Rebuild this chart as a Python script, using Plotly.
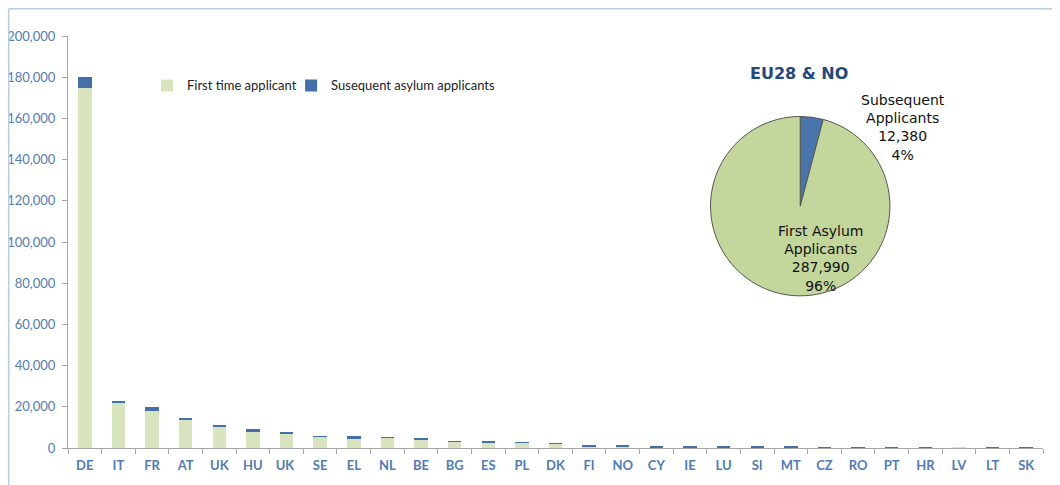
import plotly.graph_objects as go

countries = ["DE", "IT", "FR", "AT", "UK", "HU", "UK ", "SE", "EL", "NL", "BE", "BG", "ES", "PL", "DK",
             "FI", "NO", "CY", "IE", "LU", "SI", "MT", "CZ", "RO", "PT", "HR", "LV", "LT", "SK"]
first_time = [175000, 22300, 17800, 13900, 10300, 7800, 6900, 5500, 4500, 5100, 4100, 3200, 2800, 2500, 2200,
              800, 850, 380, 400, 380, 380, 380, 150, 150, 150, 150, 200, 150, 120]
subsequent = [4900, 500, 2300, 300, 400, 1400, 400, 300, 1300, 200, 300, 200, 300, 400, 200,
              200, 150, 150, 150, 150, 150, 150, 150, 150, 150, 150, 0, 150, 120]

pie_labels = ["Subsequent Applicants", "First Asylum Applicants"]
pie_values = [12380, 287990]
pie_texts = ["Subsequent<br>Applicants<br>12,380<br>4%", "First Asylum<br>Applicants<br>287,990<br>96%"]
y_ticks = [0, 20000, 40000, 60000, 80000, 100000, 120000, 140000, 160000, 180000, 200000]
y_tick_text = [f"{v:,}" for v in y_ticks]

GREEN = "#D7E4BD"
BLUE = "#4470AA"
PIE_GREEN = "#C3D69B"
PIE_BLUE = "#4A74AC"
AXIS_TXT = "#4F7CB8"

fig = go.Figure()
fig.add_trace(go.Bar(x=countries, y=first_time, name="First time applicant", legend="legend",
                     marker=dict(color=GREEN, line=dict(width=0))))
fig.add_trace(go.Bar(x=countries, y=subsequent, name="Susequent asylum applicants", legend="legend2",
                     marker=dict(color=BLUE, line=dict(width=0))))
fig.add_trace(go.Pie(labels=pie_labels, values=pie_values, sort=False, direction="clockwise",
                     rotation=0, showlegend=False, textinfo="none", hoverinfo="label+value+percent",
                     marker=dict(colors=[PIE_BLUE, PIE_GREEN], line=dict(color="#555555", width=1)),
                     domain=dict(x=[0.659, 0.843], y=[0.366, 0.808])))

legend_common = dict(orientation="h", y=0.88, xanchor="left", yanchor="middle",
                     font=dict(size=13, color="#222222", family="Lato, Liberation Sans, sans-serif"),
                     bgcolor="rgba(0,0,0,0)", itemwidth=30)

fig.update_layout(
    barmode="stack",
    bargap=0.6,
    width=1052, height=477,
    margin=dict(l=60, r=17, t=28, b=37, autoexpand=False),
    paper_bgcolor="white", plot_bgcolor="white",
    font=dict(family="Lato, Liberation Sans, sans-serif", color=AXIS_TXT),
    legend=dict(x=0.081, **legend_common),
    legend2=dict(x=0.2288, **legend_common),
    xaxis=dict(showline=True, linecolor="#A6A6A6", linewidth=1, ticks="outside", tickson="boundaries",
               ticklen=5, tickcolor="#A6A6A6", automargin=False, ticklabelstandoff=5,
               tickfont=dict(size=13, color=AXIS_TXT, weight="bold", family="Lato, Liberation Sans, sans-serif"),
               showgrid=False, zeroline=False),
    yaxis=dict(range=[0, 200000], tickvals=y_ticks, ticktext=y_tick_text, showline=True, linecolor="#A6A6A6",
               ticks="outside", ticklen=5, tickcolor="#A6A6A6", showgrid=False, zeroline=False,
               ticklabelstandoff=4, automargin=False, tickfont=dict(size=13, color=AXIS_TXT)),
    annotations=[
        dict(text="<b>EU28 & NO</b>", x=0.750, y=0.908, xref="paper", yref="paper", showarrow=False,
             font=dict(size=16, color="#1F497D", family="DejaVu Sans, Verdana, sans-serif"),
             xanchor="center", yanchor="middle"),
        dict(text=pie_texts[0], x=0.856, y=0.778, xref="paper", yref="paper", showarrow=False,
             font=dict(size=14, color="#111111", family="DejaVu Sans, Verdana, sans-serif"),
             xanchor="center", yanchor="middle", align="center"),
        dict(text=pie_texts[1], x=0.772, y=0.46, xref="paper", yref="paper", showarrow=False,
             font=dict(size=14, color="#111111", family="DejaVu Sans, Verdana, sans-serif"),
             xanchor="center", yanchor="middle", align="center"),
    ],
    shapes=[
        dict(type="line", xref="paper", yref="paper", x0=-0.0608, x1=1.03, y0=1.0661, y1=1.0661,
             line=dict(color="#B8CCE4", width=1.5)),
        dict(type="line", xref="paper", yref="paper", x0=-0.0608, x1=-0.0608, y0=1.0661, y1=-0.12,
             line=dict(color="#B8CCE4", width=1.5)),
    ],
)

fig.write_html("out.html")
